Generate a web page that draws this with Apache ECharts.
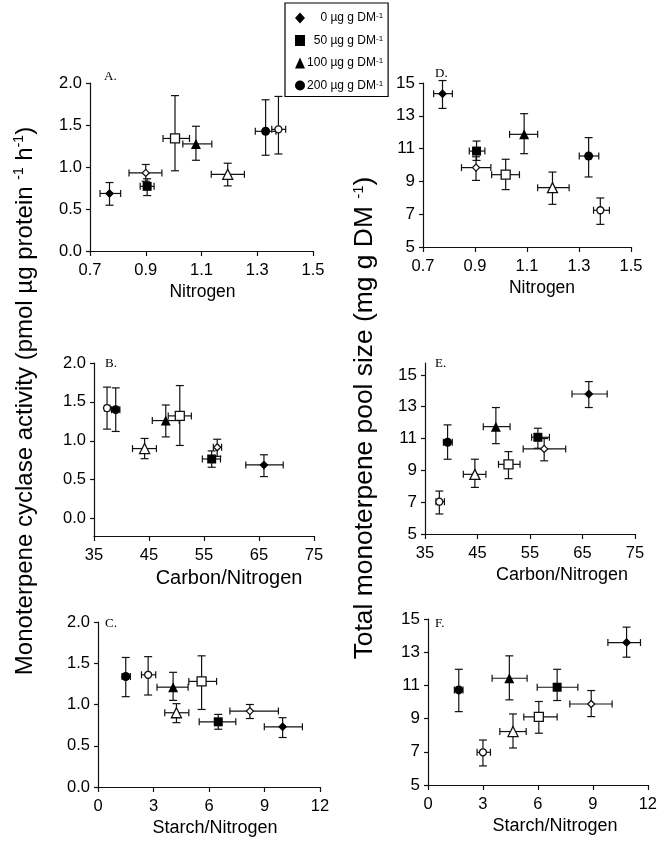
<!DOCTYPE html>
<html>
<head>
<meta charset="utf-8">
<script src="https://cdn.jsdelivr.net/npm/echarts@6/dist/echarts.min.js"></script>
<style>
  html, body { margin: 0; padding: 0; background: #fff; }
  #chart { width: 660px; height: 845px; }
</style>
</head>
<body>
<div id="chart"></div>
<script>
// Each row: [x, x low, x high, y, y low, y high]
// Row order: filled 0, 50, 100, 200 µg g DM-1, then open 0, 50, 100, 200 µg g DM-1
const treatments = ['0', '50', '100', '200'];

// Cyclase activity vs nitrogen
const panelA = [
  [0.770, 0.736, 0.810, 0.685, 0.545, 0.815],
  [0.905, 0.880, 0.930, 0.770, 0.660, 0.860],
  [1.080, 1.033, 1.137, 1.275, 1.080, 1.485],
  [1.330, 1.293, 1.367, 1.425, 1.140, 1.800],
  [0.900, 0.840, 0.958, 0.930, 0.830, 1.030],
  [1.005, 0.962, 1.057, 1.340, 0.955, 1.850],
  [1.194, 1.135, 1.254, 0.913, 0.775, 1.045],
  [1.376, 1.352, 1.402, 1.448, 1.155, 1.840]
];
// Cyclase activity vs carbon/nitrogen
const panelB = [
  [65.9, 62.6, 69.4, 0.690, 0.540, 0.820],
  [56.4, 54.7, 58.0, 0.766, 0.660, 0.870],
  [48.05, 45.6, 50.5, 1.260, 1.050, 1.460],
  [38.95, 38.2, 39.7, 1.400, 1.120, 1.680],
  [57.4, 56.7, 58.2, 0.916, 0.800, 1.020],
  [50.6, 48.5, 52.7, 1.320, 0.940, 1.710],
  [44.2, 42.0, 46.35, 0.900, 0.770, 1.030],
  [37.37, 36.9, 37.9, 1.420, 1.150, 1.690]
];
// Cyclase activity vs starch/nitrogen
const panelC = [
  [9.98, 8.99, 11.05, 0.730, 0.600, 0.840],
  [6.50, 5.47, 7.45, 0.790, 0.700, 0.880],
  [4.06, 3.19, 4.87, 1.210, 1.050, 1.390],
  [1.50, 1.30, 1.75, 1.340, 1.095, 1.570],
  [8.21, 7.13, 9.75, 0.920, 0.830, 1.000],
  [5.60, 4.91, 6.41, 1.280, 0.940, 1.590],
  [4.24, 3.61, 4.91, 0.900, 0.780, 1.010],
  [2.71, 2.35, 3.12, 1.360, 1.115, 1.580]
];
// Monoterpene pool vs nitrogen
const panelD = [
  [0.775, 0.741, 0.813, 14.35, 13.45, 15.15],
  [0.906, 0.878, 0.938, 10.85, 10.28, 11.46],
  [1.089, 1.033, 1.141, 11.87, 10.69, 13.13],
  [1.337, 1.301, 1.376, 10.55, 9.27, 11.67],
  [0.904, 0.848, 0.961, 9.84, 9.06, 10.50],
  [1.018, 0.964, 1.071, 9.41, 8.50, 10.35],
  [1.198, 1.141, 1.262, 8.62, 7.60, 9.57],
  [1.382, 1.356, 1.417, 7.24, 6.38, 7.99]
];
// Monoterpene pool vs carbon/nitrogen
const panelE = [
  [66.2, 63.0, 69.7, 13.80, 12.95, 14.58],
  [56.5, 55.3, 58.7, 11.08, 10.39, 11.65],
  [48.5, 46.1, 51.2, 11.75, 10.68, 12.95],
  [39.3, 38.5, 40.2, 10.77, 9.70, 11.86],
  [57.7, 53.7, 61.8, 10.35, 9.60, 11.00],
  [50.9, 49.0, 53.1, 9.38, 8.48, 10.18],
  [44.5, 42.3, 46.6, 8.75, 7.93, 9.70],
  [37.73, 37.1, 38.7, 7.03, 6.26, 7.70]
];
// Monoterpene pool vs starch/nitrogen
const panelF = [
  [10.84, 9.82, 11.60, 13.58, 12.70, 14.51],
  [7.05, 5.96, 8.18, 10.89, 10.09, 11.97],
  [4.44, 3.50, 5.41, 11.43, 10.13, 12.78],
  [1.68, 1.44, 1.91, 10.73, 9.42, 11.97],
  [8.91, 7.74, 10.05, 9.88, 9.12, 10.69],
  [6.05, 5.23, 7.05, 9.10, 8.12, 10.03],
  [4.64, 3.92, 5.36, 8.22, 7.23, 9.28],
  [3.00, 2.68, 3.41, 6.97, 6.15, 7.71]
];

// Tick labels
const nitrogenTicks = [0.7, 0.9, 1.1, 1.3, 1.5];
const carbonNitrogenTicks = [35, 45, 55, 65, 75];
const starchNitrogenTicks = [0, 3, 6, 9, 12];
const cyclaseTicks = [0, 0.5, 1.0, 1.5, 2.0];
const poolTicks = [5, 7, 9, 11, 13, 15];

const SANS = '"Liberation Sans", Arial, sans-serif';
const SERIF = '"Liberation Serif", "Times New Roman", serif';
const INK = '#111';

const panels = [
  { key: 'A.', data: panelA, grid: { left: 90, top: 83, width: 223, height: 168 },
    x: { min: 0.7, max: 1.5, ticks: nitrogenTicks, name: 'Nitrogen', nameSize: 17.5, shift: 1, digits: 1 },
    y: { min: 0, max: 2, ticks: cyclaseTicks, digits: 1 }, letter: [104, 70] },
  { key: 'B.', data: panelB, grid: { left: 94, top: 363, width: 220, height: 173 },
    x: { min: 35, max: 75, ticks: carbonNitrogenTicks, name: 'Carbon/Nitrogen', nameSize: 20, shift: 25, digits: 0 },
    y: { min: -0.224, max: 2, ticks: cyclaseTicks, digits: 1 }, letter: [105, 357] },
  { key: 'C.', data: panelC, grid: { left: 98, top: 622, width: 222, height: 165 },
    x: { min: 0, max: 12, ticks: starchNitrogenTicks, name: 'Starch/Nitrogen', nameSize: 18, shift: 6, digits: 0 },
    y: { min: 0, max: 2, ticks: cyclaseTicks, digits: 1 }, letter: [105, 617] },
  { key: 'D.', data: panelD, grid: { left: 423, top: 83, width: 208, height: 164 },
    x: { min: 0.7, max: 1.5, ticks: nitrogenTicks, name: 'Nitrogen', nameSize: 17.5, shift: 15, digits: 1 },
    y: { min: 5, max: 15, ticks: poolTicks, digits: 0 }, letter: [435, 67] },
  { key: 'E.', data: panelE, grid: { left: 425, top: 363, width: 210, height: 171 },
    x: { min: 35, max: 75, ticks: carbonNitrogenTicks, name: 'Carbon/Nitrogen', nameSize: 18, shift: 32, digits: 0 },
    y: { min: 5, max: 15.75, ticks: poolTicks, digits: 0 }, letter: [435, 357] },
  { key: 'F.', data: panelF, grid: { left: 428, top: 619, width: 220, height: 166 },
    x: { min: 0, max: 12, ticks: starchNitrogenTicks, name: 'Starch/Nitrogen', nameSize: 18, shift: 17, digits: 0 },
    y: { min: 5, max: 15, ticks: poolTicks, digits: 0 }, letter: [435, 617] }
];

// Marker styles: filled and open versions of each treatment symbol
const shapes = ['diamond', 'rect', 'triangle', 'circle'];
const filledSizes = [9, 9, 10, 9];
const openSizes = [7, 9, 10, 7];

function axisCommon(labelSize) {
  return {
    type: 'value',
    axisLine: { show: true, onZero: false, lineStyle: { color: INK, width: 1.2 } },
    axisTick: { show: true, length: 5, lineStyle: { color: INK, width: 1.2 } },
    splitLine: { show: false },
    axisLabel: { color: '#000', fontFamily: SANS, fontSize: labelSize }
  };
}

const grids = [], xAxes = [], yAxes = [], series = [], graphics = [];

panels.forEach((p, i) => {
  grids.push(Object.assign({ containLabel: false }, p.grid));

  const xa = axisCommon(16.5);
  Object.assign(xa, {
    gridIndex: i, min: p.x.min, max: p.x.max,
    name: p.x.name, nameLocation: 'middle', nameGap: 32,
    nameTextStyle: {
      fontFamily: SANS, fontSize: p.x.nameSize, color: '#000',
      padding: [0, 0, 0, 2 * p.x.shift]
    }
  });
  xa.axisTick.customValues = p.x.ticks;
  xa.axisLabel.customValues = p.x.ticks;
  xa.axisLabel.margin = 11;
  xa.axisLabel.formatter = v => Number(v).toFixed(p.x.digits);
  xAxes.push(xa);

  const ya = axisCommon(i < 3 ? 16.5 : 17);
  Object.assign(ya, { gridIndex: i, min: p.y.min, max: p.y.max });
  ya.axisTick.length = 4;
  ya.axisTick.customValues = p.y.ticks;
  ya.axisLabel.customValues = p.y.ticks;
  ya.axisLabel.margin = 8;
  ya.axisLabel.formatter = v => Number(v).toFixed(p.y.digits);
  yAxes.push(ya);

  // Error bars with end caps, in both directions
  series.push({
    type: 'custom',
    xAxisIndex: i, yAxisIndex: i,
    z: 1,
    silent: true,
    encode: { x: [0, 1, 2], y: [3, 4, 5] },
    data: p.data,
    renderItem: function (params, api) {
      const x = api.value(0), xlo = api.value(1), xhi = api.value(2);
      const y = api.value(3), ylo = api.value(4), yhi = api.value(5);
      const l = api.coord([xlo, y]), r = api.coord([xhi, y]);
      const b = api.coord([x, ylo]), t = api.coord([x, yhi]);
      const st = { stroke: INK, lineWidth: 1.2 };
      const ln = (x1, y1, x2, y2) => ({ type: 'line', shape: { x1, y1, x2, y2 }, style: st });
      return {
        type: 'group',
        children: [
          ln(l[0], l[1], r[0], r[1]),
          ln(l[0], l[1] - 3.5, l[0], l[1] + 3.5),
          ln(r[0], r[1] - 3.5, r[0], r[1] + 3.5),
          ln(b[0], b[1], t[0], t[1]),
          ln(b[0] - 4, b[1], b[0] + 4, b[1]),
          ln(t[0] - 4, t[1], t[0] + 4, t[1])
        ]
      };
    }
  });

  // One scatter series for each treatment, filled then open
  treatments.forEach((t, k) => {
    const filled = p.data[k], open = p.data[k + 4];
    series.push({
      type: 'scatter', name: t,
      xAxisIndex: i, yAxisIndex: i, z: 3,
      symbol: shapes[k], symbolSize: filledSizes[k],
      itemStyle: { color: '#000', opacity: 1 },
      emphasis: { disabled: true },
      data: [[filled[0], filled[3]]]
    });
    series.push({
      type: 'scatter', name: t + ' open',
      xAxisIndex: i, yAxisIndex: i, z: 3,
      symbol: shapes[k], symbolSize: openSizes[k],
      itemStyle: { color: '#fff', borderColor: INK, borderWidth: 1.3, opacity: 1 },
      emphasis: { disabled: true },
      data: [[open[0], open[3]]]
    });
  });

  graphics.push({
    type: 'text', left: p.letter[0], top: p.letter[1], silent: true,
    style: { text: p.key, font: '13px ' + SERIF, fill: '#000' }
  });
});

// Vertical axis titles shared by each column
graphics.push({
  type: 'text', x: 25, y: 401, rotation: Math.PI / 2, silent: true,
  style: {
    text: '{m|Monoterpene cyclase activity (pmol µg protein }{s|-1}{m| h}{s|-1}{m|)}',
    align: 'center', verticalAlign: 'middle',
    rich: {
      m: { fontFamily: SANS, fontSize: 24, fill: '#000', lineHeight: 26 },
      s: { fontFamily: SANS, fontSize: 14, fill: '#000', verticalAlign: 'top' }
    }
  }
});
graphics.push({
  type: 'text', x: 365, y: 418, rotation: Math.PI / 2, silent: true,
  style: {
    text: '{m|Total monoterpene pool size (mg g DM }{s|-1}{m|)}',
    align: 'center', verticalAlign: 'middle',
    rich: {
      m: { fontFamily: SANS, fontSize: 26.4, fill: '#000', lineHeight: 28 },
      s: { fontFamily: SANS, fontSize: 15, fill: '#000', verticalAlign: 'top' }
    }
  }
});

const chart = echarts.init(document.getElementById('chart'), null, { renderer: 'canvas' });
chart.setOption({
  animation: false,
  backgroundColor: '#fff',
  grid: grids,
  xAxis: xAxes,
  yAxis: yAxes,
  legend: {
    data: treatments,
    orient: 'vertical',
    left: 285, top: 3,
    padding: [9, 5, 5, 10],
    itemWidth: 10, itemHeight: 11, itemGap: 10.5,
    borderColor: '#000', borderWidth: 1.2, borderRadius: 0,
    selectedMode: false,
    formatter: name => '{a|' + name + ' µg g DM}{s|-1}',
    textStyle: {
      color: '#000', fontFamily: SANS, fontSize: 12,
      rich: {
        a: { fontFamily: SANS, fontSize: 12, width: 66, align: 'right', color: '#000' },
        s: { fontFamily: SANS, fontSize: 8, verticalAlign: 'top', align: 'right', color: '#000' }
      }
    }
  },
  graphic: graphics,
  series: series
});
</script>
</body>
</html>
